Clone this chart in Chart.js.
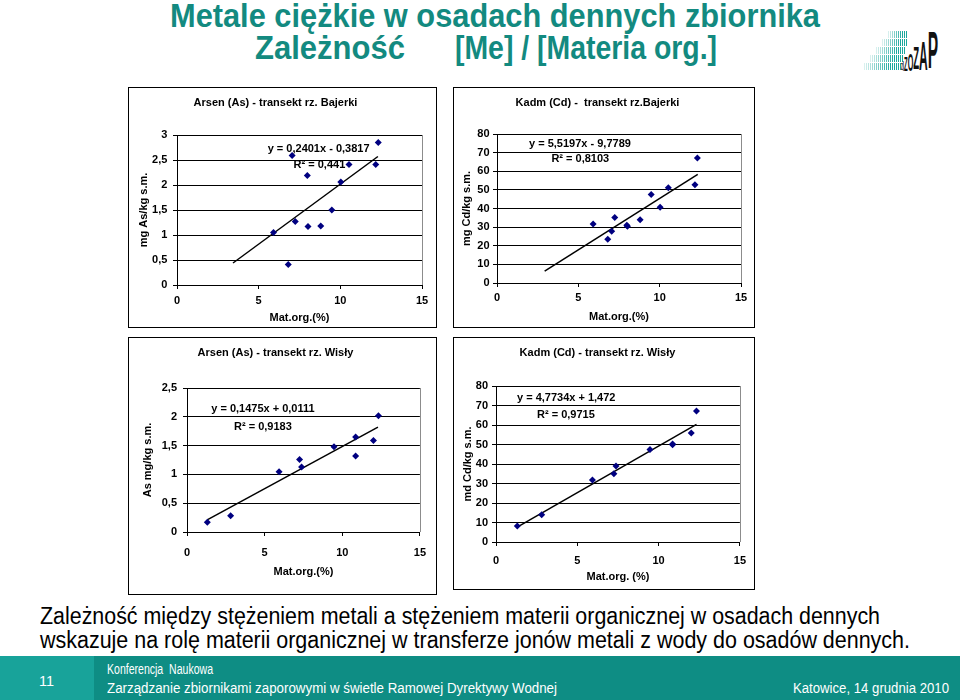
<!DOCTYPE html>
<html>
<head>
<meta charset="utf-8">
<title>Metale ciężkie w osadach dennych zbiornika</title>
<script src="https://cdn.jsdelivr.net/npm/chart.js@4.4.1/dist/chart.umd.min.js"></script>
<style>
  body { margin: 0; width: 960px; height: 700px; position: relative; overflow: hidden; background: #fff;
         font-family: "Liberation Sans", Arial, sans-serif; }
  .box { position: absolute; border: 1px solid #000; box-sizing: border-box; background: #fff; }
  .box canvas { display: block; }
  .fit { position: absolute; white-space: nowrap; transform-origin: 0 50%; line-height: 1; }
  .head { color: #138a80; font-weight: bold; font-size: 34px; }
  .note { color: #000; font-size: 23px; }
  .foot { color: #fff; font-size: 14px; }
  #band { position: absolute; left: 0; top: 656px; width: 960px; height: 44px; background: #0e8d84; }
  #band .num { position: absolute; left: 0; top: 0; width: 94px; height: 44px; background: #18a39a; }
  .stair { position: absolute; height: 7px;
           background: linear-gradient(90deg, rgba(255,255,255,0.85), rgba(255,255,255,0) 70%),
                       repeating-linear-gradient(90deg, #1ba89d 0 1px, #fff 1px 2px); }
  #logoText { position: absolute; left: 901px; top: 26px; height: 46px; display: flex; align-items: flex-end;
              font-weight: bold; color: #111; transform: scaleX(0.3); transform-origin: 0 100%; line-height: 0.8; }
</style>
</head>
<body>

<div class="fit head" data-w="650" style="left:170px; top:-2px;">Metale ciężkie w osadach dennych zbiornika</div>
<div class="fit head" data-w="150" style="left:255px; top:30px;">Zależność</div>
<div class="fit head" data-w="262" style="left:455px; top:30px;">[Me] / [Materia org.]</div>

<!-- logo -->
<div class="stair" style="left:864px; top:63px; width:38px;"></div>
<div class="stair" style="left:870px; top:55px; width:34px;"></div>
<div class="stair" style="left:876px; top:47px; width:30px;"></div>
<div class="stair" style="left:882px; top:39px; width:26px;"></div>
<div class="stair" style="left:888px; top:31px; width:20px;"></div>
<div id="logoText"><span style="font-size:12px">z</span><span style="font-size:14px">I</span><span style="font-size:20px">Z</span><span style="font-size:24px">O</span><span style="font-size:32px">Z</span><span style="font-size:40px">A</span><span style="font-size:52px">P</span></div>

<div class="box" style="left:128px; top:87px; width:309px; height:241px;"><canvas id="asBajerkiChart" width="307" height="239"></canvas></div>
<div class="box" style="left:453px; top:87px; width:302px; height:241px;"><canvas id="cdBajerkiChart" width="300" height="239"></canvas></div>
<div class="box" style="left:128px; top:337px; width:309px; height:258px;"><canvas id="asWislaChart" width="307" height="256"></canvas></div>
<div class="box" style="left:453px; top:337px; width:302px; height:253px;"><canvas id="cdWislaChart" width="300" height="251"></canvas></div>

<div class="fit note" data-w="840" style="left:40px; top:605px;">Zależność między stężeniem metali a stężeniem materii organicznej w osadach dennych</div>
<div class="fit note" data-w="870" style="left:40px; top:629px;">wskazuje na rolę materii organicznej w transferze jonów metali z wody do osadów dennych.</div>

<div id="band"><div class="num"></div></div>
<div class="fit foot" data-w="15" style="left:39px; top:674px;">11</div>
<div class="fit foot" data-w="106" style="left:107px; top:662px;">Konferencja&nbsp; Naukowa</div>
<div class="fit foot" data-w="450" style="left:107px; top:681px;">Zarządzanie zbiornikami zaporowymi w świetle Ramowej Dyrektywy Wodnej</div>
<div class="fit foot" data-w="156" style="left:793px; top:681px;">Katowice, 14 grudnia 2010</div>

<script>
// Data (x = organic matter %, y = metal content)
const xBajerki = [5.91, 6.81, 7.05, 7.24, 7.98, 8.02, 8.8, 9.48, 10.03, 10.53, 12.17, 12.32];
const asBajerki = [1.05, 0.41, 2.59, 1.27, 2.19, 1.17, 1.18, 1.5, 2.06, 2.41, 2.41, 2.85];
const cdBajerki = [31.7, 23.5, 27.8, 35.2, 31.0, 30.5, 33.9, 47.5, 40.7, 51.1, 52.7, 67.1];

const xWisla = [1.31, 2.81, 5.93, 7.25, 7.38, 9.47, 10.86, 10.86, 12.01, 12.33];
const asWisla = [0.17, 0.28, 1.045, 1.26, 1.13, 1.48, 1.65, 1.32, 1.59, 2.02];
const cdWisla = [8.2, 14.0, 31.8, 35.0, 39.0, 47.5, 49.9, 50.3, 55.9, 67.2];

// Trend line end points
const trendAsBajerkiX = [3.43, 12.3];
const trendAsBajerkiY = [0.44, 2.57];
const trendCdBajerkiX = [2.93, 12.34];
const trendCdBajerkiY = [6.4, 58.3];
const trendAsWislaX = [1.3, 12.3];
const trendAsWislaY = [0.21, 1.82];
const trendCdWislaX = [1.25, 12.33];
const trendCdWislaY = [7.4, 60.3];

// Trend equations
const eqAsBajerki = ["y = 0,2401x - 0,3817", "R² = 0,441"];
const eqCdBajerki = ["y = 5,5197x - 9,7789", "R² = 0,8103"];
const eqAsWisla = ["y = 0,1475x + 0,0111", "R² = 0,9183"];
const eqCdWisla = ["y = 4,7734x + 1,472", "R² = 0,9715"];

const xTicks = [0, 5, 10, 15];

// squeeze html text to the width it has on the slide
document.querySelectorAll('.fit').forEach(el => {
  const w = el.getBoundingClientRect().width;
  el.style.transform = 'scaleX(' + (Number(el.dataset.w) / w) + ')';
});

Chart.defaults.font.family = '"Liberation Sans", Arial, sans-serif';
Chart.defaults.font.size = 11;
Chart.defaults.font.weight = 'bold';
Chart.defaults.color = '#000';

const comma = v => String(v).replace('.', ',');

// grey right edge of the plot area
const plotFrame = {
  id: 'plotFrame',
  beforeDatasetsDraw(chart) {
    const a = chart.chartArea, ctx = chart.ctx;
    const x = Math.round(a.right) + 0.5;
    ctx.save();
    ctx.strokeStyle = '#8c8c8c';
    ctx.lineWidth = 1;
    ctx.beginPath();
    ctx.moveTo(x, Math.round(a.top));
    ctx.lineTo(x, Math.round(a.bottom));
    ctx.stroke();
    ctx.restore();
  }
};

// equation + R² text, placed in data coordinates
const eqLabels = {
  id: 'eqLabels',
  afterDatasetsDraw(chart, args, opts) {
    const ctx = chart.ctx, sx = chart.scales.x, sy = chart.scales.y;
    ctx.save();
    ctx.font = 'bold 11px "Liberation Sans", Arial, sans-serif';
    ctx.fillStyle = '#000';
    ctx.textAlign = 'center';
    ctx.textBaseline = 'middle';
    opts.lines.forEach((t, i) => {
      ctx.fillText(t, sx.getPixelForValue(opts.at[i][0]), sy.getPixelForValue(opts.at[i][1]));
    });
    ctx.restore();
  }
};

function makeChart(id, title, xs, ys, tx, ty, yMax, yStep, yTitle, xTitle, eq, eqAt, g) {
  const pts = xs.map((x, i) => ({ x: x, y: ys[i] }));
  const trend = tx.map((x, i) => ({ x: x, y: ty[i] }));
  return new Chart(document.getElementById(id), {
    type: 'scatter',
    data: {
      datasets: [
        {
          data: pts,
          pointStyle: 'rectRot',
          pointRadius: 3.5,
          backgroundColor: '#000080',
          borderColor: '#000080',
          borderWidth: 0
        },
        {
          type: 'line',
          data: trend,
          borderColor: '#000',
          borderWidth: 1.5,
          pointRadius: 0,
          fill: false
        }
      ]
    },
    options: {
      responsive: false,
      animation: false,
      events: [],
      layout: { padding: { left: 0, right: g.right, top: 0, bottom: 0 } },
      plugins: {
        legend: { display: false },
        tooltip: { enabled: false },
        title: {
          display: true,
          text: title,
          font: { size: 11, weight: 'bold' },
          padding: { top: g.titleY - 6.6, bottom: g.top - g.titleY - 6.6 }
        },
        eqLabels: { lines: eq, at: eqAt }
      },
      scales: {
        x: {
          type: 'linear',
          min: 0,
          max: 15,
          afterFit: s => { s.height = g.bottom; },
          afterBuildTicks: s => { s.ticks = xTicks.map(v => ({ value: v })); },
          ticks: { padding: g.xTickPad, callback: comma },
          grid: { drawOnChartArea: false, drawTicks: true, tickLength: 4, color: '#000' },
          border: { color: '#000', width: 1 },
          title: { display: true, text: xTitle, padding: { top: 0, bottom: g.xTitlePad } }
        },
        y: {
          min: 0,
          max: yMax,
          afterFit: s => { s.width = g.left; },
          ticks: { stepSize: yStep, padding: g.yTickPad, callback: comma },
          grid: { color: '#000', lineWidth: 1, drawTicks: true, tickLength: 4 },
          border: { color: '#000', width: 1 },
          title: { display: true, text: yTitle, padding: { top: g.yTitleX - 6.6, bottom: 0 } }
        }
      }
    },
    plugins: [plotFrame, eqLabels]
  });
}

makeChart('asBajerkiChart', 'Arsen (As) - transekt rz. Bajerki',
  xBajerki, asBajerki, trendAsBajerkiX, trendAsBajerkiY, 3, 0.5,
  'mg As/kg s.m.', 'Mat.org.(%)', eqAsBajerki, [[8.67, 2.73], [8.72, 2.41]],
  { left: 48, right: 14, top: 47, bottom: 42, titleY: 14.7, yTitleX: 15, xTickPad: 5.5, xTitlePad: 2.4, yTickPad: 5.7 });

makeChart('cdBajerkiChart', 'Kadm (Cd) -  transekt rz.Bajerki',
  xBajerki, cdBajerki, trendCdBajerkiX, trendCdBajerkiY, 80, 10,
  'mg Cd/kg s.m.', 'Mat.org.(%)', eqCdBajerki, [[5.1, 74.6], [5.12, 66.7]],
  { left: 43, right: 13, top: 46, bottom: 44, titleY: 14.7, yTitleX: 12.7, xTickPad: 4, xTitlePad: 3.7, yTickPad: 3.4 });

makeChart('asWislaChart', 'Arsen (As) - transekt rz. Wisły',
  xWisla, asWisla, trendAsWislaX, trendAsWislaY, 2.5, 0.5,
  'As mg/kg s.m.', 'Mat.org.(%)', eqAsWisla, [[4.89, 2.13], [4.89, 1.83]],
  { left: 58, right: 14, top: 50, bottom: 62, titleY: 15.3, yTitleX: 19, xTickPad: 10, xTitlePad: 15, yTickPad: 6 });

makeChart('cdWislaChart', 'Kadm (Cd) - transekt rz. Wisły',
  xWisla, cdWisla, trendCdWislaX, trendCdWislaY, 80, 10,
  'md Cd/kg s.m.', 'Mat.org. (%)', eqCdWisla, [[4.32, 73.8], [4.3, 65.3]],
  { left: 42, right: 13, top: 48, bottom: 47, titleY: 14.7, yTitleX: 14, xTickPad: 8, xTitlePad: 5.7, yTickPad: 4 });
</script>
</body>
</html>
